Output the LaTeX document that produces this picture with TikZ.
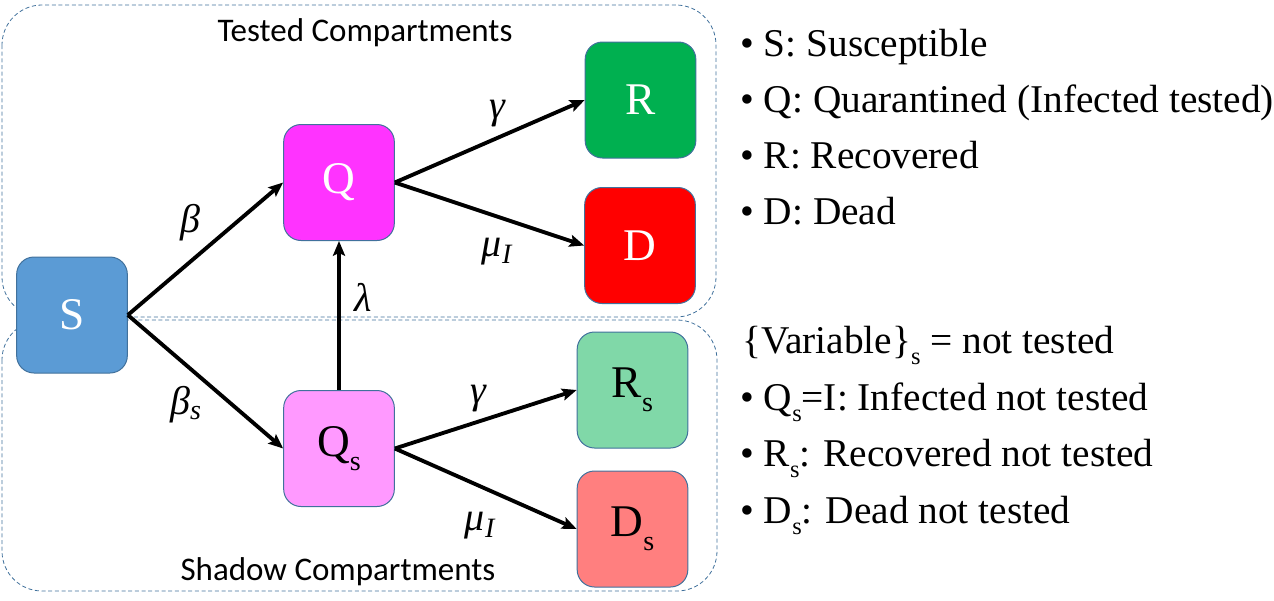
\documentclass[tikz,border=0pt]{standalone}
\usepackage{fontspec}
\setmainfont{Liberation Serif}
\newfontfamily\calib{Carlito}
\usetikzlibrary{arrows.meta}
\definecolor{boxedge}{HTML}{41719C}
\definecolor{cS}{HTML}{5B9BD5}
\definecolor{cQ}{HTML}{FF33FF}
\definecolor{cQs}{HTML}{FF99FF}
\definecolor{cR}{HTML}{00B050}
\definecolor{cD}{HTML}{FF0000}
\definecolor{cRs}{HTML}{80D8A8}
\definecolor{cDs}{HTML}{FF7F7F}
\newcommand{\lowsub}[1]{\raisebox{-0.3em}{\scalebox{0.62}{#1}}}
\tikzset{
  comp/.style={draw=boxedge, line width=0.75pt, rounded corners=13pt, minimum width=83pt, minimum height=87pt, inner sep=0pt, font=\fontsize{34}{38}\selectfont},
  region/.style={draw=boxedge, line width=0.6pt, dash pattern=on 3pt off 2pt, rounded corners=30pt},
  flow/.style={line width=2.9pt, -{Stealth[length=11pt,width=9pt,inset=2pt]}},
  greek/.style={font=\itshape\fontsize{30}{34}\selectfont, inner sep=0pt},
  legend/.style={anchor=base west, inner sep=0pt, font=\fontsize{29.5}{34}\selectfont},
  title/.style={anchor=base, inner sep=0pt, font=\calib\fontsize{24.75}{28}\selectfont}
}
\begin{document}
\begin{tikzpicture}[x=0.75pt, y=-0.75pt]
\useasboundingbox (0,0) rectangle (1274,600);
% regions
\draw[region] (2,5) rectangle (716,317);
\draw[region] (2,320) rectangle (717,591);
\node[title] (tt) at (365,41) {Tested Compartments};
\node[title] (st) at (338,580) {Shadow Compartments};
% compartments
\node[comp, fill=cS, text=white] (S) at (72,315) {S};
\node[comp, fill=cQ, text=white] (Q) at (339,182.5) {Q};
\node[comp, fill=cQs] (Qs) at (339,448.5) {Q\lowsub{s}};
\node[comp, fill=cR, text=white] (R) at (640.5,100) {R};
\node[comp, fill=cD, text=white] (D) at (640,245.5) {D};
\node[comp, fill=cRs] (Rs) at (632.5,390) {R\lowsub{s}};
\node[comp, fill=cDs] (Ds) at (632.5,529) {D\lowsub{s}};
% flows
\draw[flow] (S.east) -- (Q.west);
\draw[flow] (S.east) -- (Qs.west);
\draw[flow] (Qs.north) -- (Q.south);
\draw[flow] (Q.east) -- (R.west);
\draw[flow] (Q.east) -- (D.west);
\draw[flow] (Qs.east) -- (Rs.west);
\draw[flow] (Qs.east) -- (Ds.west);
% rate labels
\node[greek] (lb) at (190,223) {β};
\node[greek] (lbs) at (186,405) {β\textsubscript{s}};
\node[greek] (ll) at (363,297) {λ};
\node[greek] (lg1) at (497,114) {γ};
\node[greek] (lm1) at (497,252) {μ\textsubscript{I}};
\node[greek] (lg2) at (478,399) {γ};
\node[greek] (lm2) at (480,526) {μ\textsubscript{I}};
% legend
\node[legend] (l1) at (740,56) {• S: Susceptible};
\node[legend] (l2) at (740,112) {• Q: Quarantined (Infected tested)};
\node[legend] (l3) at (740,168) {• R: Recovered};
\node[legend] (l4) at (740,224) {• D: Dead};
\node[legend] (l5) at (742,353) {\{Variable\}\lowsub{s} = not tested};
\node[legend] (l6) at (740,410) {• Q\lowsub{s}=I: Infected not tested};
\node[legend] (l7) at (740,466) {• R\lowsub{s}: Recovered not tested};
\node[legend] (l8) at (740,523) {• D\lowsub{s}: Dead not tested};
\end{tikzpicture}
\end{document}
